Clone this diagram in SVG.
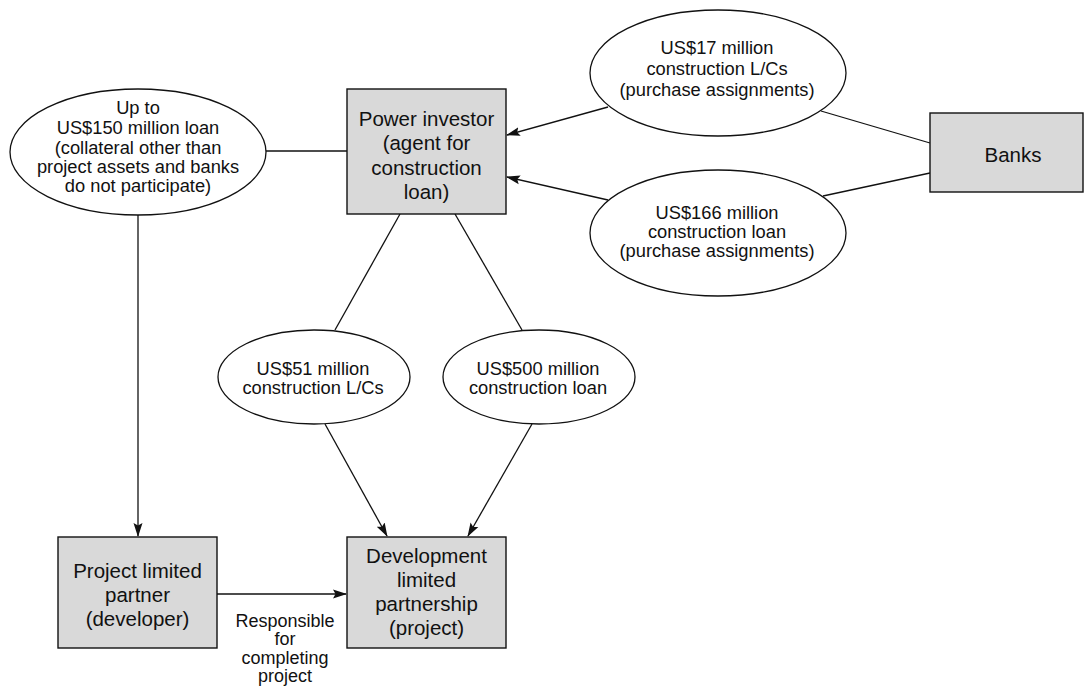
<svg xmlns="http://www.w3.org/2000/svg" width="1085" height="687" viewBox="0 0 1085 687">
  <style>
    .box { fill: #d9d9d9; stroke: #111; stroke-width: 1.4; }
    .oval { fill: #fff; stroke: #111; stroke-width: 1.3; }
    .edge { fill: none; stroke: #111; stroke-width: 1.3; }
    .arrow { marker-end: url(#head); }
    text { font-family: "Liberation Sans", Arial, sans-serif; fill: #111; text-anchor: middle; }
    .bt { font-size: 20.5px; }
    .et { font-size: 18.3px; }
    .lt { font-size: 18px; }
  </style>
  <defs>
    <marker id="head" viewBox="0 0 14 10" refX="13" refY="5" markerWidth="14" markerHeight="10" markerUnits="userSpaceOnUse" orient="auto">
      <path d="M0,0.5 L14,5 L0,9.5 L2.5,5 Z" fill="#111"/>
    </marker>
  </defs>

  <!-- connectors -->
  <g id="connectors">
    <line class="edge" x1="266" y1="151" x2="347" y2="151"/>
    <line class="edge arrow" x1="138" y1="215" x2="138" y2="536"/>
    <line class="edge arrow" x1="608" y1="107" x2="507" y2="135"/>
    <line class="edge arrow" x1="608" y1="200" x2="507" y2="177"/>
    <line class="edge" x1="821" y1="111" x2="930" y2="143"/>
    <line class="edge" x1="823" y1="196" x2="930" y2="173"/>
    <line class="edge" x1="400" y1="214" x2="335" y2="330"/>
    <line class="edge" x1="455" y1="214" x2="522" y2="330"/>
    <line class="edge arrow" x1="325" y1="424" x2="387" y2="536"/>
    <line class="edge arrow" x1="532" y1="424" x2="468" y2="536"/>
    <line class="edge arrow" x1="217" y1="594" x2="346" y2="594"/>
    <text class="lt" x="285" y="627">Responsible</text>
    <text class="lt" x="285" y="645">for</text>
    <text class="lt" x="285" y="664">completing</text>
    <text class="lt" x="285" y="682">project</text>
  </g>

  <g id="loan-150">
    <ellipse class="oval" cx="138" cy="152" rx="128" ry="63"/>
    <text class="et" x="138" y="114">Up to</text>
    <text class="et" x="138" y="134">US$150 million loan</text>
    <text class="et" x="138" y="154">(collateral other than</text>
    <text class="et" x="138" y="173">project assets and banks</text>
    <text class="et" x="138" y="192">do not participate)</text>
  </g>

  <g id="power-investor">
    <rect class="box" x="347" y="89" width="159" height="125"/>
    <text class="bt" x="426.5" y="126">Power investor</text>
    <text class="bt" x="426.5" y="150">(agent for</text>
    <text class="bt" x="426.5" y="174.5">construction</text>
    <text class="bt" x="426.5" y="199">loan)</text>
  </g>

  <g id="lcs-17">
    <ellipse class="oval" cx="718" cy="73" rx="128" ry="63"/>
    <text class="et" x="717" y="54">US$17 million</text>
    <text class="et" x="717" y="75">construction L/Cs</text>
    <text class="et" x="717" y="95.5">(purchase assignments)</text>
  </g>

  <g id="loan-166">
    <ellipse class="oval" cx="718" cy="233" rx="128" ry="63"/>
    <text class="et" x="717" y="219">US$166 million</text>
    <text class="et" x="717" y="238">construction loan</text>
    <text class="et" x="717" y="256.5">(purchase assignments)</text>
  </g>

  <g id="banks">
    <rect class="box" x="930" y="113" width="153" height="79"/>
    <text class="bt" x="1013" y="162">Banks</text>
  </g>

  <g id="lcs-51">
    <ellipse class="oval" cx="314" cy="377" rx="96" ry="47"/>
    <text class="et" x="313" y="375">US$51 million</text>
    <text class="et" x="313" y="393.5">construction L/Cs</text>
  </g>

  <g id="loan-500">
    <ellipse class="oval" cx="539" cy="377" rx="96" ry="47"/>
    <text class="et" x="538" y="375">US$500 million</text>
    <text class="et" x="538" y="393.5">construction loan</text>
  </g>

  <g id="project-limited-partner">
    <rect class="box" x="58" y="537" width="159" height="111"/>
    <text class="bt" x="137.5" y="578">Project limited</text>
    <text class="bt" x="137.5" y="602">partner</text>
    <text class="bt" x="137.5" y="626">(developer)</text>
  </g>

  <g id="development-partnership">
    <rect class="box" x="347" y="537" width="159" height="111"/>
    <text class="bt" x="426.5" y="563">Development</text>
    <text class="bt" x="426.5" y="587">limited</text>
    <text class="bt" x="426.5" y="611">partnership</text>
    <text class="bt" x="426.5" y="635">(project)</text>
  </g>
</svg>
